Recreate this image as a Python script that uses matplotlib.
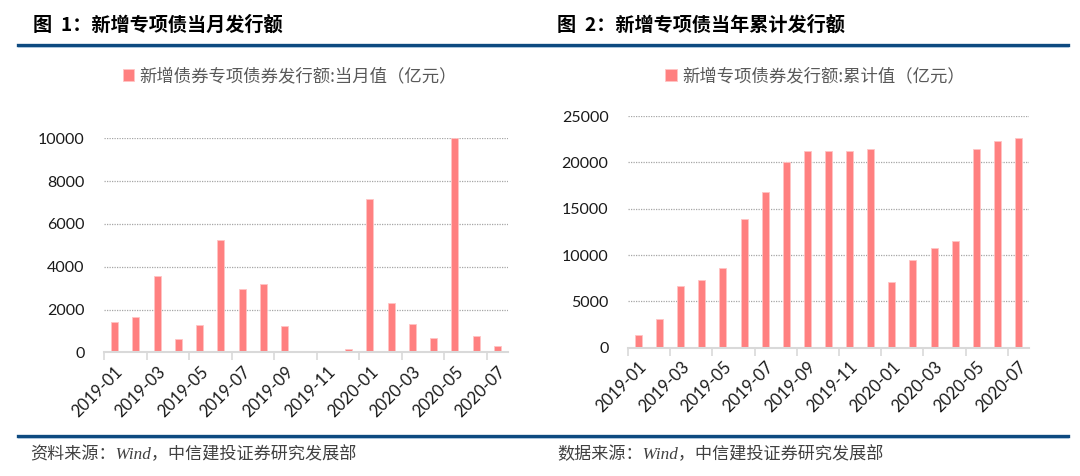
import matplotlib
matplotlib.use("Agg")
import numpy as np
from matplotlib import pyplot as plt
from matplotlib.lines import Line2D

plt.rcParams['font.family'] = ['Lato', 'Noto Sans CJK SC', 'DejaVu Sans']

months = ['2019-01', '2019-02', '2019-03', '2019-04', '2019-05', '2019-06',
          '2019-07', '2019-08', '2019-09', '2019-10', '2019-11', '2019-12',
          '2020-01', '2020-02', '2020-03', '2020-04', '2020-05', '2020-06',
          '2020-07']
# 亿元
monthly = [1400, 1640, 3570, 610, 1280, 5250, 2960, 3180, 1220, 0, 0, 150,
           7150, 2320, 1310, 670, 10000, 780, 310]
cumulative = [1370, 3060, 6620, 7270, 8570, 13850, 16800, 20000, 21260, 21260,
              21260, 21400, 7120, 9430, 10790, 11480, 21440, 22270, 22630]

title_left = '图  1：新增专项债当月发行额'
title_right = '图  2：新增专项债当年累计发行额'
legend_left = '新增债券专项债券发行额:当月值（亿元）'
legend_right = '新增专项债券发行额:累计值（亿元）'
source_left = '资料来源：Wind，中信建投证券研究发展部'
source_right = '数据来源：Wind，中信建投证券研究发展部'

bar_color = '#FF8080'
blue = '#0E4A80'
W, H = 1080, 476

fig = plt.figure(figsize=(W / 100, H / 100), dpi=100)


def draw_panel(rect, values, ymax, ystep, legend_text, legend_xy):
    ax = fig.add_axes(rect)
    x = np.arange(len(months))
    bars = ax.bar(x, values, width=0.33, color=bar_color, edgecolor='#FFC4C4',
                  linewidth=0.6, label=legend_text, zorder=3)
    ax.set_xlim(-0.5, len(months) - 0.5)
    ax.set_ylim(0, ymax)
    ax.set_yticks(np.arange(0, ymax + 1, ystep))
    ax.yaxis.grid(True, linestyle=(0, (1, 1)), color='#A6A6A6', linewidth=0.9, zorder=0)
    for s in ['top', 'right', 'left']:
        ax.spines[s].set_visible(False)
    ax.spines['bottom'].set_color('#D9D9D9')
    ax.spines['bottom'].set_linewidth(1.5)
    ax.spines['bottom'].set_zorder(4)
    ax.tick_params(axis='y', length=0, pad=14, labelsize=11.5, labelcolor='#1A1A1A')
    # labels every other month, tick marks on category borders
    ax.set_xticks(x[::2])
    ax.set_xticklabels(months[::2], rotation=45, ha='right', rotation_mode='anchor',
                       fontsize=12, color='#1A1A1A')
    ax.tick_params(axis='x', length=0, pad=8)
    ax.set_xticks(np.arange(-0.5, len(months), 2), minor=True)
    ax.tick_params(axis='x', which='minor', length=6, width=1.2, color='#D9D9D9')
    ax.legend(handles=[bars], loc='center', bbox_to_anchor=legend_xy,
              bbox_transform=fig.transFigure, frameon=False,
              handlelength=0.65, handleheight=0.65, handletextpad=0.3,
              labelcolor='#595959', prop={'family': ['Noto Sans CJK SC'], 'size': 12.5})
    return ax


draw_panel([104 / W, 1 - 352.3 / H, 404 / W, 214 / H], monthly, 10000, 2000,
           legend_left, (290 / W, 1 - 76 / H))
draw_panel([628 / W, 1 - 347.7 / H, 401 / W, 231.7 / H], cumulative, 25000, 5000,
           legend_right, (815 / W, 1 - 76 / H))

# headers
fig.text(33 / W, 1 - 25 / H, title_left, fontsize=13.8, fontweight='bold',
         va='center', ha='left', family=['Noto Sans CJK SC'])
fig.text(557 / W, 1 - 25 / H, title_right, fontsize=13.8, fontweight='bold',
         va='center', ha='left', family=['Noto Sans CJK SC'])

for y in (44.5, 436):
    fig.add_artist(Line2D([18 / W, 1068 / W], [1 - y / H, 1 - y / H], color=blue,
                          linewidth=2.4, transform=fig.transFigure))
    fig.add_artist(Line2D([18 / W, 1068 / W], [1 - (y + 2.2) / H, 1 - (y + 2.2) / H],
                          color='#A9C4DC', linewidth=0.7, transform=fig.transFigure))

fig.text(30 / W, 1 - 455 / H, source_left, fontsize=12.3, style='italic', va='center',
         ha='left', color='#404040', family=['Liberation Serif', 'Noto Sans CJK SC'])
fig.text(557 / W, 1 - 455 / H, source_right, fontsize=12.3, style='italic', va='center',
         ha='left', color='#404040', family=['Liberation Serif', 'Noto Sans CJK SC'])

fig.savefig('out.png', dpi=100, facecolor='white')
